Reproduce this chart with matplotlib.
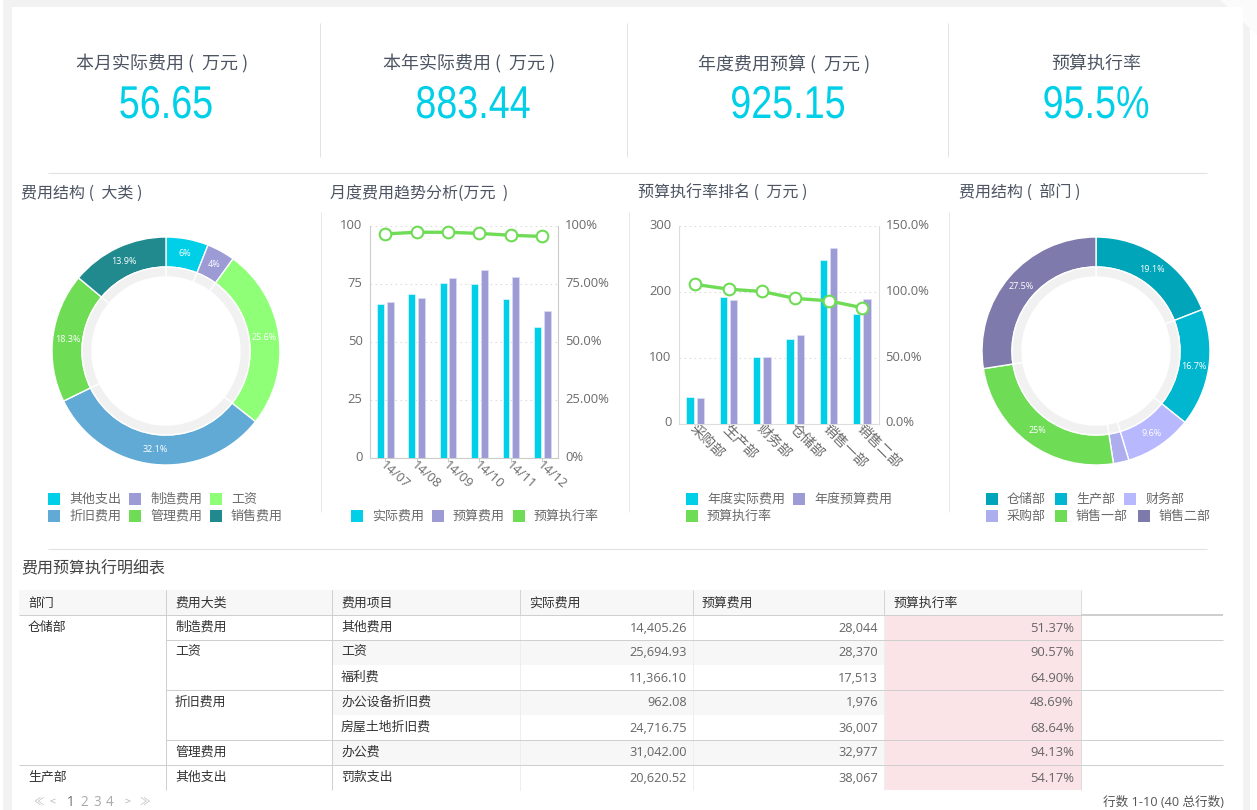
import math
import matplotlib
matplotlib.use("Agg")
import matplotlib.pyplot as plt
from matplotlib.patches import Rectangle, Polygon
from matplotlib.patheffects import AbstractPathEffect
from matplotlib.transforms import Affine2D, ScaledTranslation

W, H = 1257, 810
SANS = ['Liberation Sans', 'DejaVu Sans']
CJK = ['Noto Sans CJK SC', 'DejaVu Sans']
LATIN = ['Open Sans', 'Noto Sans CJK SC', 'DejaVu Sans']
plt.rcParams['font.family'] = CJK

# ---- data ----
kpi_titles = ['本月实际费用 (  万元 )', '本年实际费用 (  万元 )', '年度费用预算 (  万元 )', '预算执行率']
kpi_values = ['56.65', '883.44', '925.15', '95.5%']

class_names = ['其他支出', '制造费用', '工资', '折旧费用', '管理费用', '销售费用']
class_share = [6, 4, 25.6, 32.1, 18.3, 13.9]
class_labels = ['6%', '4%', '25.6%', '32.1%', '18.3%', '13.9%']
class_colors = ['#00cfe8', '#9d9bd6', '#90ff78', '#61aad6', '#6fdc55', '#208a8f']

months = ['14/07', '14/08', '14/09', '14/10', '14/11', '14/12']
month_actual = [66.5, 70.8, 75.5, 75.0, 68.7, 56.5]
month_budget = [67.3, 69.0, 77.7, 81.0, 78.0, 63.5]
month_rate = [96.6, 97.3, 97.3, 96.8, 96.0, 95.5]
month_left_ticks = [0, 25, 50, 75, 100]
month_right_labels = ['0%', '25.00%', '50.0%', '75.00%', '100%']

depts = ['采购部', '生产部', '财务部', '仓储部', '销售一部', '销售二部']
dept_actual = [40, 192, 101, 128, 248, 166]
dept_budget = [38.5, 187.5, 101, 134, 267, 189]
dept_rate = [105.7, 102, 100.3, 95, 93.2, 88]
dept_left_ticks = [0, 100, 200, 300]
dept_right_ticks = [0, 50, 100, 150]
dept_right_labels = ['0.0%', '50.0%', '100.0%', '150.0%']

dept_names = ['仓储部', '生产部', '财务部', '采购部', '销售一部', '销售二部']
dept_share = [19.1, 16.7, 9.6, 2.2, 25, 27.5]
dept_labels = ['19.1%', '16.7%', '9.6%', '', '25%', '27.5%']
dept_colors = ['#00a5ba', '#00b7cf', '#b8b8ff', '#aeaeee', '#6fdc55', '#7e7bac']

table_headers = ['部门', '费用大类', '费用项目', '实际费用', '预算费用', '预算执行率']
table_dept = ['仓储部', '', '', '', '', '', '生产部']
table_class = ['制造费用', '工资', '', '折旧费用', '', '管理费用', '其他支出']
table_item = ['其他费用', '工资', '福利费', '办公设备折旧费', '房屋土地折旧费', '办公费', '罚款支出']
table_actual = ['14,405.26', '25,694.93', '11,366.10', '962.08', '24,716.75', '31,042.00', '20,620.52']
table_budget = ['28,044', '28,370', '17,513', '1,976', '36,007', '32,977', '38,067']
table_rate = ['51.37%', '90.57%', '64.90%', '48.69%', '68.64%', '94.13%', '54.17%']

CYAN, PURPLE, GREEN = '#00cfe8', '#9d9bd6', '#6fdc55'
TXT = '#6b6b6b'
TITLE = '#4d5563'


def px(size):
    return size * 0.72


class Squeeze(AbstractPathEffect):
    """Narrow a text horizontally about a display x position."""

    def __init__(self, cx, sx):
        super().__init__()
        self.cx, self.sx = cx, sx

    def draw_path(self, renderer, gc, tpath, affine, rgbFace=None):
        t = affine + Affine2D().translate(-self.cx, 0).scale(self.sx, 1).translate(self.cx, 0)
        renderer.draw_path(gc, tpath, t, rgbFace)


fig = plt.figure(figsize=(W / 100, H / 100), dpi=100, facecolor='white')
bg = fig.add_axes([0, 0, 1, 1], zorder=0)
bg.set_xlim(0, W)
bg.set_ylim(H, 0)
bg.axis('off')


def rect(x0, y0, x1, y1, c, z=1):
    bg.add_patch(Rectangle((x0, y0), x1 - x0, y1 - y0, fc=c, ec='none', zorder=z))


def line(x0, y0, x1, y1, c='#e3e3e3', lw=1.0, z=2):
    bg.plot([x0, x1], [y0, y1], color=c, lw=lw * 0.72, solid_capstyle='butt', zorder=z)


def text(x, y, s, size, c=TXT, ha='left', fam=CJK, z=5):
    dy = 1.5 if fam is CJK else 0
    return bg.text(x, y + dy, s, fontsize=px(size), color=c, ha=ha, va='center', family=fam, zorder=z)


# page background
rect(3, 0, 1250, 810, '#f2f2f2')
rect(12, 7, 1243, 810, '#ffffff', 1.5)
bg.add_patch(Polygon([[1220, 0], [1257, 0], [1257, 35], [1243, 22], [1243, 7], [1228, 7]], fc='#fbfbfb', ec='none', zorder=1.6))

# KPI row
for x in (320, 627, 948):
    line(x, 23, x, 157)
line(48, 173, 1207, 173, lw=1.2)
line(48, 549, 1207, 549, lw=1.2)
for t, v, tx, vx in zip(kpi_titles, kpi_values, (162, 469, 784, 1096), (166, 473, 788, 1096)):
    text(tx, 62.5, t, 18, TITLE, ha='center')
    vt = text(vx, 106, v, 46, CYAN, ha='center', fam=SANS)
    vt.set_path_effects([Squeeze(vx, 0.82)])

# section titles
text(21, 191.5, '费用结构 (  大类 )', 16, TITLE)
text(330, 191.5, '月度费用趋势分析(万元  )', 16, TITLE)
text(638, 191.5, '预算执行率排名 (  万元 )', 16, TITLE)
text(959, 191.5, '费用结构 (  部门 )', 16, TITLE)
text(21, 567, '费用预算执行明细表', 16, '#444444')
for x in (320.5, 629, 949):
    line(x, 212, x, 512, '#e8e8e8')


def axes_px(x0, y0, x1, y1, z=3):
    ax = fig.add_axes([x0 / W, 1 - y1 / H, (x1 - x0) / W, (y1 - y0) / H], zorder=z)
    ax.patch.set_alpha(0)
    return ax


def donut(cx, cy, shares, colors, labels):
    R = 114
    ax = axes_px(cx - R - 2, cy - R - 2, cx + R + 2, cy + R + 2)
    ax.set_aspect('equal')
    ax.pie(shares, colors=colors, radius=R, startangle=90, counterclock=False,
           wedgeprops=dict(width=R - 84, edgecolor='white', linewidth=1.0))
    ax.pie(shares, colors=['#f1f1f1'] * len(shares), radius=84, startangle=90, counterclock=False,
           wedgeprops=dict(width=10, edgecolor='white', linewidth=1.0))
    ax.set_xlim(-R - 2, R + 2)
    ax.set_ylim(-R - 2, R + 2)
    total = sum(shares)
    acc = 0
    for s, l in zip(shares, labels):
        a = math.radians(90 - (acc + s / 2) / total * 360)
        acc += s
        if l:
            ax.text(99 * math.cos(a), 99 * math.sin(a), l, color='white', fontsize=px(9),
                    ha='center', va='center', family=LATIN)


LIFT = ScaledTranslation(0, 2 / 100, fig.dpi_scale_trans)


def combo(box, cats, actual, budget, rate, lticks, ylim, rticks, rlabels, rlim, spine, rot, fs, nudge):
    x0, y0, x1, y1 = box
    ax = axes_px(x0, y0, x1, y1)
    xs = list(range(len(cats)))
    ax.bar([x - 0.155 for x in xs], actual, 0.22, color=CYAN, edgecolor='#dff7fb', linewidth=0.5, zorder=3)
    ax.bar([x + 0.155 for x in xs], budget, 0.22, color=PURPLE, edgecolor='#dcdcf2', linewidth=0.5, zorder=3)
    ax.set_xlim(-0.5, len(cats) - 0.5)
    ax.set_ylim(*ylim)
    ax.set_yticks(lticks)
    ax.set_yticklabels([str(v) for v in lticks], family=LATIN, fontsize=px(13), color=TXT)
    ax.yaxis.grid(True, color='#dddddd', linestyle=(0, (1.5, 3)), lw=0.8, zorder=0)
    ax.set_axisbelow(True)
    ax.tick_params(axis='y', length=0, pad=5)
    ax.set_xticks(xs)
    ax.set_xticklabels(cats, rotation=rot, rotation_mode='anchor', ha='left', va='center',
                       family=LATIN if cats is months else CJK, fontsize=px(fs), color=TXT)
    ax.tick_params(axis='x', length=3, width=0.7, color='#cccccc', pad=3)
    ax.spines['top'].set_visible(False)
    for s in ('left', 'right', 'bottom'):
        ax.spines[s].set_color(spine)
        ax.spines[s].set_linewidth(0.8)
    ax2 = ax.twinx()
    ax2.patch.set_alpha(0)
    ax2.plot(xs, rate, color=GREEN, lw=2.4, marker='o', ms=8.4, mfc='white', mec=GREEN, mew=1.5, zorder=6, clip_on=False)
    ax2.set_ylim(*rlim)
    ax2.set_yticks(rticks)
    ax2.set_yticklabels(rlabels, family=LATIN, fontsize=px(13), color=TXT)
    ax2.tick_params(axis='y', length=0, pad=5)
    ax2.spines['top'].set_visible(False)
    for s in ('left', 'right', 'bottom'):
        ax2.spines[s].set_visible(False)
    for lab in list(ax.get_yticklabels()) + list(ax2.get_yticklabels()):
        lab.set_transform(lab.get_transform() + LIFT)
    shift = ScaledTranslation(nudge[0] / 100, nudge[1] / 100, fig.dpi_scale_trans)
    for lab in ax.get_xticklabels():
        lab.set_transform(lab.get_transform() + shift)


donut(166, 351, class_share, class_colors, class_labels)
donut(1096, 351, dept_share, dept_colors, dept_labels)
combo((369.5, 226, 558, 458), months, month_actual, month_budget, month_rate, month_left_ticks, (0, 100),
      [0, 25, 50, 75, 100], month_right_labels, (0, 100), '#cccccc', -42, 13, (-3, 3))
combo((678.5, 226, 878.5, 423.5), depts, dept_actual, dept_budget, dept_rate, dept_left_ticks, (0, 300),
      dept_right_ticks, dept_right_labels, (0, 150), '#dddddd', -45, 14, (-3, 5))


def legend(entries, size=13):
    for sx, tx, y, c, s in entries:
        rect(sx, y, sx + 12, y + 12, c, 4)
        text(tx, y + 5, s, size, TXT)


legend([(48, 69, 493, class_colors[0], class_names[0]), (129, 150, 493, class_colors[1], class_names[1]),
        (210, 231, 493, class_colors[2], class_names[2]), (48, 69, 510, class_colors[3], class_names[3]),
        (129, 150, 510, class_colors[4], class_names[4]), (210, 231, 510, class_colors[5], class_names[5])])
legend([(351, 372, 510, CYAN, '实际费用'), (432, 453, 510, PURPLE, '预算费用'), (513, 534, 510, GREEN, '预算执行率')])
legend([(686, 707, 493, CYAN, '年度实际费用'), (793, 814, 493, PURPLE, '年度预算费用'), (686, 707, 510, GREEN, '预算执行率')])
legend([(986, 1007, 493, dept_colors[0], dept_names[0]), (1055, 1076, 493, dept_colors[1], dept_names[1]),
        (1124, 1146, 493, dept_colors[2], dept_names[2]), (986, 1007, 510, dept_colors[3], dept_names[3]),
        (1055, 1076, 510, dept_colors[4], dept_names[4]), (1138, 1159, 510, dept_colors[5], dept_names[5])])

# table
cols = [19, 166, 332, 520, 693, 884, 1081]
right = 1223
y_head, y_body, rh = 590, 615, 25
n = len(table_item)
y_end = y_body + n * rh
rect(19, y_head, 1081, y_body, '#f7f7f7', 2)
for i in (1, 3, 5):
    rect(cols[2], y_body + i * rh, cols[5], y_body + (i + 1) * rh, '#f7f7f7', 2)
rect(cols[5], y_body, cols[6], y_end, '#fbe4e7', 2)
for x in cols[1:4]:
    line(x, y_head, x, y_end, '#cfcfcf', 1.0, 3)
for x in cols[3:6]:
    line(x, y_head, x, y_body, '#d4d4d4', 1.0, 3)
for x in cols[3:6]:
    line(x, y_body, x, y_end, '#eeeeee', 1.0, 3)
line(cols[6], y_head, cols[6], y_end, '#dddddd', 1.0, 3)
line(19, y_body, cols[6], y_body, '#cfcfcf', 1.0, 3)
line(cols[6], y_body, right, y_body, '#cfcfcf', 2.0, 3)
for i in (1, 3, 5):
    line(cols[1], y_body + i * rh, right, y_body + i * rh, '#cfcfcf', 1.0, 3)
line(19, y_body + 6 * rh, right, y_body + 6 * rh, '#cfcfcf', 1.0, 3)

CELL = 12.9
for x, h in zip(cols, table_headers):
    text(x + 9, y_head + 11.5, h, CELL, '#333333')
for i in range(n):
    yc = y_body + i * rh + 10.5
    if table_dept[i]:
        text(cols[0] + 9, yc, table_dept[i], CELL, '#333333')
    if table_class[i]:
        text(cols[1] + 9, yc, table_class[i], CELL, '#333333')
    text(cols[2] + 9, yc, table_item[i], CELL, '#333333')
    yn = y_body + i * rh + 13
    text(cols[4] - 6, yn, table_actual[i], 12.8, '#666666', ha='right', fam=LATIN)
    text(cols[5] - 6, yn, table_budget[i], 12.8, '#666666', ha='right', fam=LATIN)
    text(cols[6] - 7, yn, table_rate[i], 13, '#666666', ha='right', fam=LATIN)

# pager
for x, s, c, f, sz in [(33, '≪', '#bbbbbb', CJK, 10.5), (50, '<', '#bbbbbb', CJK, 10.5), (67, '1', '#666666', LATIN, 13.5),
                       (80, '2', '#aaaaaa', LATIN, 13.5), (93, '3', '#aaaaaa', LATIN, 13.5), (106, '4', '#aaaaaa', LATIN, 13.5),
                       (125, '>', '#bbbbbb', CJK, 10.5), (139, '≫', '#bbbbbb', CJK, 10.5)]:
    text(x, 802 - (1.5 if f is CJK else 0), s, sz, c, fam=f)
text(1224, 802.5, '行数 1-10 (40 总行数)', 12.6, '#555555', ha='right', fam=LATIN)

fig.savefig('out.png', dpi=100, facecolor='white')
